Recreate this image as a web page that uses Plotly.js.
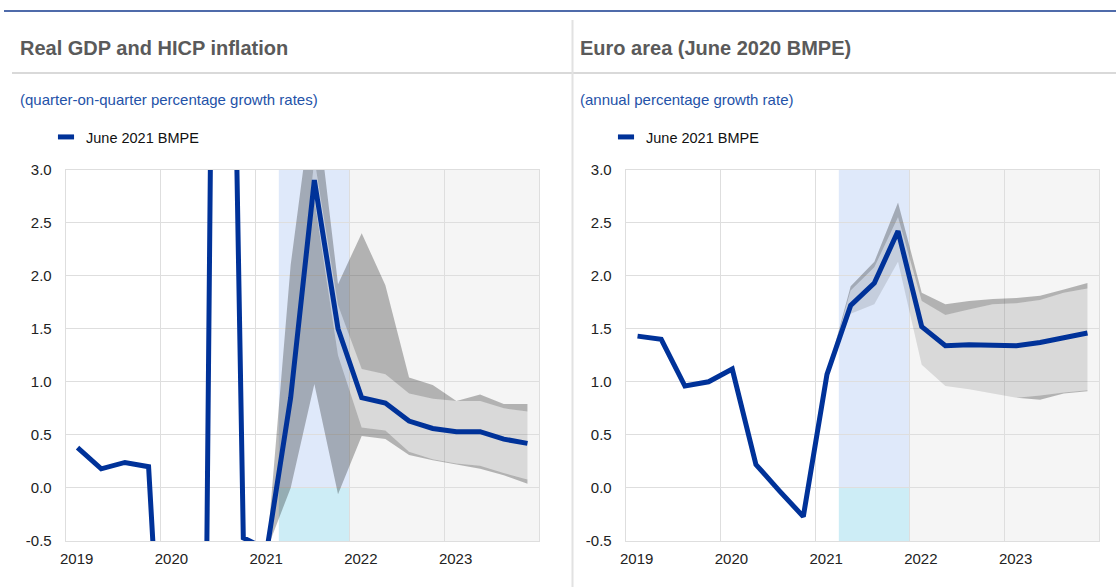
<!DOCTYPE html>
<html>
<head>
<meta charset="utf-8">
<script src="https://cdn.plot.ly/plotly-3.0.1.min.js"></script>
<style>
  html, body { margin: 0; padding: 0; background: #ffffff; }
  #chart { width: 1116px; height: 587px; }
</style>
</head>
<body>
<div id="chart"></div>
<script>
// ---------------- DATA ----------------
const quarters = ['2019Q1','2019Q2','2019Q3','2019Q4','2020Q1','2020Q2','2020Q3','2020Q4',
                  '2021Q1','2021Q2','2021Q3','2021Q4','2022Q1','2022Q2','2022Q3','2022Q4',
                  '2023Q1','2023Q2','2023Q3','2023Q4'];
const fanQuarters = ['2021Q1','2021Q2','2021Q3','2021Q4','2022Q1','2022Q2','2022Q3','2022Q4',
                     '2023Q1','2023Q2','2023Q3','2023Q4'];
const yearTicks = [2019, 2020, 2021, 2022, 2023, 2024];
const yearLabels = ['2019', '2020', '2021', '2022', '2023', ''];
const valueTicks = [-0.5, 0, 0.5, 1, 1.5, 2, 2.5, 3];
const valueLabels = ['-0.5', '0.0', '0.5', '1.0', '1.5', '2.0', '2.5', '3.0'];

// Left panel: real GDP, quarter-on-quarter growth (June 2021 BMPE)
const gdpGrowth = [0.38, 0.18, 0.24, 0.20, -3.7, -11.6, 12.4, -0.47,
                   -0.58, 0.85, 2.90, 1.50, 0.85, 0.80, 0.63, 0.56,
                   0.53, 0.53, 0.46, 0.42];
const gdpOuterUpper = [-0.58, 2.10, 3.80, 1.92, 2.40, 1.91, 1.04, 0.97, 0.82, 0.88, 0.79, 0.79];
const gdpInnerUpper = [-0.58, 0.85, 3.10, 1.72, 1.12, 1.07, 0.89, 0.84, 0.82, 0.82, 0.75, 0.72];
const gdpInnerLower = [-0.58, 0.85, 2.72, 1.25, 0.57, 0.54, 0.34, 0.27, 0.23, 0.21, 0.14, 0.08];
const gdpOuterLower = [-0.58, 0.00, 0.98, -0.06, 0.49, 0.46, 0.31, 0.26, 0.22, 0.18, 0.12, 0.04];

// Right panel: HICP inflation, annual growth
const hicpInflation = [1.43, 1.40, 0.96, 1.00, 1.12, 0.22, -0.03, -0.27,
                       1.07, 1.72, 1.93, 2.42, 1.52, 1.34, 1.35, 1.34,
                       1.34, 1.37, 1.41, 1.46];
const hicpOuterUpper = [1.07, 1.90, 2.13, 2.69, 1.84, 1.73, 1.76, 1.78, 1.79, 1.81, 1.87, 1.93];
const hicpInnerUpper = [1.07, 1.86, 2.08, 2.55, 1.76, 1.63, 1.68, 1.73, 1.74, 1.77, 1.84, 1.88];
const hicpInnerLower = [1.07, 1.64, 1.73, 2.13, 1.16, 0.96, 0.93, 0.89, 0.85, 0.87, 0.90, 0.92];
const hicpOuterLower = [1.07, 1.64, 1.73, 2.13, 1.16, 0.96, 0.93, 0.89, 0.85, 0.83, 0.89, 0.91];

const seriesName = 'June 2021 BMPE';
const panelTitles = ['Real GDP and HICP inflation', 'Euro area (June 2020 BMPE)'];
const panelUnits = ['(quarter-on-quarter percentage growth rates)', '(annual percentage growth rate)'];
const nearTermPeriod = [2021.25, 2022];   // highlighted period
const projectionPeriod = [2022, 2024];    // shaded projection horizon

// ---------------- HELPERS ----------------
function qpos(q) { // quarter label -> mid-quarter position on a year axis
  const y = parseInt(q.slice(0, 4), 10), n = parseInt(q.slice(5), 10);
  return y + (n - 0.5) / 4;
}
const W = 1116, H = 587;
const px = v => v / W;
const py = v => 1 - v / H;

const BLUE = '#003299';
const FONT = 'Arial, "Liberation Sans", sans-serif';
const GRID = '#dedede';
const DARK_FAN = 'rgba(0,0,0,0.27)';
const LIGHT_FAN = 'rgba(0,0,0,0.114)';

function fanTraces(xa, ya, outerLo, innerLo, innerUp, outerUp) {
  const x = fanQuarters.map(qpos);
  const base = {x: x, xaxis: xa, yaxis: ya, mode: 'lines', line: {width: 0}, hoverinfo: 'skip', showlegend: false, type: 'scatter'};
  return [
    Object.assign({}, base, {y: outerLo}),
    Object.assign({}, base, {y: innerLo, fill: 'tonexty', fillcolor: DARK_FAN}),
    Object.assign({}, base, {y: innerUp, fill: 'tonexty', fillcolor: LIGHT_FAN}),
    Object.assign({}, base, {y: outerUp, fill: 'tonexty', fillcolor: DARK_FAN})
  ];
}
function lineTrace(xa, ya, y) {
  return {x: quarters.map(qpos), y: y, xaxis: xa, yaxis: ya, type: 'scatter', mode: 'lines',
          line: {color: BLUE, width: 5}, showlegend: false, name: seriesName};
}
function legendTrace(xa, ya, legendId) {
  return {x: [null], y: [null], xaxis: xa, yaxis: ya, type: 'scatter', mode: 'markers', name: seriesName,
          legend: legendId,
          marker: {symbol: 'line-ew', size: 11.5, color: BLUE, line: {color: BLUE, width: 5}}};
}

const traces = [].concat(
  fanTraces('x', 'y', gdpOuterLower, gdpInnerLower, gdpInnerUpper, gdpOuterUpper),
  [lineTrace('x', 'y', gdpGrowth)],
  fanTraces('x2', 'y2', hicpOuterLower, hicpInnerLower, hicpInnerUpper, hicpOuterUpper),
  [lineTrace('x2', 'y2', hicpInflation)],
  [legendTrace('x', 'y', 'legend'), legendTrace('x2', 'y2', 'legend2')]
);

function xAxis(domain, anchor) {
  return {domain: domain, anchor: anchor, range: [2019, 2024], tickmode: 'array',
          tickvals: yearTicks, ticktext: yearLabels, ticklabelshift: 11, ticklabelstandoff: 4,
          showgrid: true, gridcolor: GRID, gridwidth: 1, zeroline: false,
          showline: true, mirror: true, linecolor: GRID, linewidth: 1, ticks: '',
          tickfont: {family: FONT, size: 15, color: '#222222'}, fixedrange: true};
}
function yAxis(domain, anchor) {
  return {domain: domain, anchor: anchor, range: [-0.5, 3], tickmode: 'array',
          tickvals: valueTicks, ticktext: valueLabels, ticklabelstandoff: 10,
          showgrid: true, gridcolor: GRID, gridwidth: 1, zeroline: false,
          showline: true, mirror: true, linecolor: GRID, linewidth: 1, ticks: '',
          tickfont: {family: FONT, size: 15, color: '#222222'}, fixedrange: true};
}
const yDom = [py(541), py(169.5)];

function panelShapes(xr, yr) {
  return [
    {type: 'rect', xref: xr, yref: yr + ' domain', x0: projectionPeriod[0], x1: projectionPeriod[1], y0: 0, y1: 1,
     fillcolor: '#f5f5f5', line: {width: 0}, layer: 'below'},
    {type: 'rect', xref: xr, yref: yr, x0: nearTermPeriod[0], x1: nearTermPeriod[1], y0: 0, y1: 3,
     fillcolor: '#dfe9fa', line: {width: 0}, layer: 'below'},
    {type: 'rect', xref: xr, yref: yr, x0: nearTermPeriod[0], x1: nearTermPeriod[1], y0: -0.52, y1: 0,
     fillcolor: '#cdedf6', line: {width: 0}, layer: 'below'}
  ];
}

const shapes = [].concat(
  panelShapes('x', 'y'),
  panelShapes('x2', 'y2'),
  [
    {type: 'line', xref: 'paper', yref: 'paper', x0: px(4), x1: 1, y0: py(11), y1: py(11), line: {color: '#153a8e', width: 1.5}},
    {type: 'line', xref: 'paper', yref: 'paper', x0: px(12), x1: 1, y0: py(73), y1: py(73), line: {color: '#d9d9d9', width: 2}},
    {type: 'line', xref: 'paper', yref: 'paper', x0: px(572.5), x1: px(572.5), y0: py(20), y1: 0, line: {color: '#e2e2e2', width: 2}}
  ]
);

const annotations = [
  {text: panelTitles[0], x: px(18), y: py(48), xref: 'paper', yref: 'paper', xanchor: 'left', yanchor: 'middle', showarrow: false,
   font: {family: FONT, size: 20, color: '#5a5a5a', weight: 'bold'}},
  {text: panelTitles[1], x: px(578), y: py(48), xref: 'paper', yref: 'paper', xanchor: 'left', yanchor: 'middle', showarrow: false,
   font: {family: FONT, size: 20, color: '#5a5a5a', weight: 'bold'}},
  {text: panelUnits[0], x: px(18), y: py(99), xref: 'paper', yref: 'paper', xanchor: 'left', yanchor: 'middle', showarrow: false,
   font: {family: FONT, size: 15, color: '#2452a8'}},
  {text: panelUnits[1], x: px(578), y: py(99), xref: 'paper', yref: 'paper', xanchor: 'left', yanchor: 'middle', showarrow: false,
   font: {family: FONT, size: 15, color: '#2452a8'}}
];

const legendBase = {xanchor: 'left', yanchor: 'middle', y: py(137), bgcolor: 'rgba(0,0,0,0)', borderwidth: 0,
                    font: {family: FONT, size: 14.5, color: '#111111'}, orientation: 'v'};

const layout = {
  width: W, height: H,
  margin: {l: 0, r: 0, t: 0, b: 0},
  paper_bgcolor: '#ffffff', plot_bgcolor: '#ffffff',
  font: {family: FONT},
  showlegend: true,
  legend: Object.assign({}, legendBase, {x: px(46)}),
  legend2: Object.assign({}, legendBase, {x: px(606)}),
  xaxis: xAxis([px(65.7), px(539.3)], 'y'),
  yaxis: yAxis(yDom, 'x'),
  xaxis2: xAxis([px(625.7), px(1099.3)], 'y2'),
  yaxis2: yAxis(yDom, 'x2'),
  shapes: shapes,
  annotations: annotations
};

Plotly.newPlot('chart', traces, layout, {staticPlot: true, displayModeBar: false});
</script>
</body>
</html>
